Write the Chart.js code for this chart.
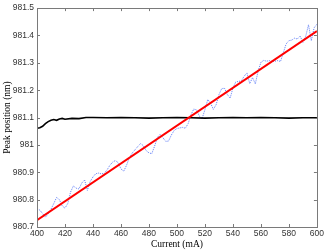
<!DOCTYPE html>
<html>
<head>
<meta charset="utf-8">
<script src="https://cdn.jsdelivr.net/npm/chart.js@4"></script>
<style>
  html, body { margin: 0; padding: 0; background: #fff; }
  #wrap { width: 326px; height: 250px; }
</style>
</head>
<body>
<div id="wrap"><canvas id="myChart" width="326" height="250"></canvas></div>
<script>
// measured peak position (blue dots), every 2 mA from 400 to 600
var currentMeas = [];
for (var c = 400; c <= 600; c += 2) currentMeas.push(c);
var peakMeas = [
  980.765, 980.762, 980.749, 980.736, 980.748, 980.765, 980.786, 980.808, 980.800, 980.777,
  980.769, 980.786, 980.828, 980.850, 980.842, 980.839, 980.861, 980.872, 980.834, 980.866,
  980.883, 980.895, 980.897, 980.894, 980.896, 980.908, 980.925, 980.937, 980.943, 980.935,
  980.912, 980.904, 980.926, 980.953, 980.970, 980.982, 980.994, 981.005, 980.997, 980.979,
  980.971, 980.968, 980.995, 981.027, 981.039, 981.026, 981.013, 981.014, 981.036, 981.053,
  981.060, 981.062, 981.064, 981.061, 981.078, 981.110, 981.131, 981.128, 981.105, 981.097,
  981.129, 981.166, 981.153, 981.130, 981.147, 981.184, 981.206, 981.207, 981.184, 981.171,
  981.208, 981.230, 981.232, 981.234, 981.251, 981.263, 981.224, 981.246, 981.223, 981.270,
  981.302, 981.309, 981.306, 981.308, 981.305, 981.306, 981.308, 981.305, 981.337, 981.369,
  981.381, 981.383, 981.390, 981.387, 981.398, 981.375, 981.397, 981.439, 981.381, 981.428,
  981.441
];

// linear fit (red)
var currentFit = [400, 600];
var peakFit = [980.725, 981.416];

// reference / compensated (black)
var currentRef = [400, 402, 404, 406, 408, 410, 412, 414, 416, 418, 420, 425, 430, 435, 440,
  450, 460, 470, 480, 490, 500, 510, 520, 530, 540, 550, 560, 570, 580, 590, 600];
var peakRef = [981.061, 981.063, 981.068, 981.078, 981.085, 981.090, 981.093, 981.090, 981.095,
  981.097, 981.094, 981.097, 981.096, 981.100, 981.100, 981.099, 981.100, 981.099, 981.098,
  981.099, 981.100, 981.099, 981.098, 981.099, 981.100, 981.099, 981.100, 981.099, 981.098,
  981.099, 981.099];

var xMin = 400, xMax = 600, xStep = 20;
var yMin = 980.7, yMax = 981.5, yStep = 0.1;

function pairs(xs, ys) {
  return xs.map(function (x, i) { return { x: x, y: ys[i] }; });
}

var axisGray = "#7a7a7a";
var labelColor = "#333";

// box round the plot and tick marks pointing inward, matlab style
var framePlugin = {
  id: "frame",
  afterDatasetsDraw: function (chart) {
    var a = chart.chartArea, g = chart.ctx;
    var xs = chart.scales.x, ys = chart.scales.y;
    g.save();
    g.strokeStyle = axisGray;
    g.lineWidth = 1;
    g.strokeRect(Math.round(a.left) + 0.5, Math.round(a.top) + 0.5,
      Math.round(a.right - a.left), Math.round(a.bottom - a.top));
    g.beginPath();
    xs.ticks.forEach(function (t) {
      var px = Math.round(xs.getPixelForValue(t.value)) + 0.5;
      g.moveTo(px, a.bottom); g.lineTo(px, a.bottom - 3);
      g.moveTo(px, a.top); g.lineTo(px, a.top + 3);
    });
    ys.ticks.forEach(function (t) {
      var py = Math.round(ys.getPixelForValue(t.value)) + 0.5;
      g.moveTo(a.left, py); g.lineTo(a.left + 3, py);
      g.moveTo(a.right, py); g.lineTo(a.right - 3, py);
    });
    g.stroke();
    g.restore();
  }
};

var ctx = document.getElementById("myChart");
var chart = new Chart(ctx, {
  type: "scatter",
  data: {
    datasets: [
      {
        label: "measured",
        data: pairs(currentMeas, peakMeas),
        showLine: true,
        borderColor: "rgb(95,125,245)",
        borderWidth: 1,
        borderDash: [1, 1],
        pointRadius: 0,
        order: 3
      },
      {
        label: "reference",
        data: pairs(currentRef, peakRef),
        showLine: true,
        borderColor: "#000",
        borderWidth: 1.6,
        pointRadius: 0,
        order: 2
      },
      {
        label: "fit",
        data: pairs(currentFit, peakFit),
        showLine: true,
        borderColor: "#ff0000",
        borderWidth: 2,
        pointRadius: 0,
        order: 1
      }
    ]
  },
  options: {
    responsive: false,
    animation: false,
    devicePixelRatio: 1,
    layout: { padding: { left: 2, right: 9, top: 7, bottom: 0 } },
    plugins: {
      legend: { display: false },
      tooltip: { enabled: false }
    },
    scales: {
      x: {
        type: "linear",
        min: xMin, max: xMax,
        grid: { display: false, drawTicks: false },
        border: { display: false },
        ticks: {
          stepSize: xStep,
          padding: 2,
          maxRotation: 0,
          autoSkip: false,
          color: labelColor,
          font: { family: "'Liberation Sans', Arial, sans-serif", size: 8.5 }
        },
        title: {
          display: true,
          text: "Current (mA)",
          color: "#000",
          padding: { top: 0, bottom: 0 },
          font: { family: "'Liberation Serif', 'Times New Roman', serif", size: 9.5 }
        },
        afterFit: function (s) { s.height = 23; }
      },
      y: {
        type: "linear",
        min: yMin, max: yMax,
        grid: { display: false, drawTicks: false },
        border: { display: false },
        ticks: {
          stepSize: yStep,
          padding: 3,
          autoSkip: false,
          color: labelColor,
          font: { family: "'Liberation Sans', Arial, sans-serif", size: 8.5 },
          callback: function (v) { return String(Number(v.toFixed(1))); }
        },
        title: {
          display: true,
          text: "Peak position (nm)",
          color: "#000",
          padding: { top: 0, bottom: 0 },
          font: { family: "'Liberation Serif', 'Times New Roman', serif", size: 9.5 }
        },
        afterFit: function (s) { s.width = 35; }
      }
    }
  },
  plugins: [framePlugin]
});
</script>
</body>
</html>
